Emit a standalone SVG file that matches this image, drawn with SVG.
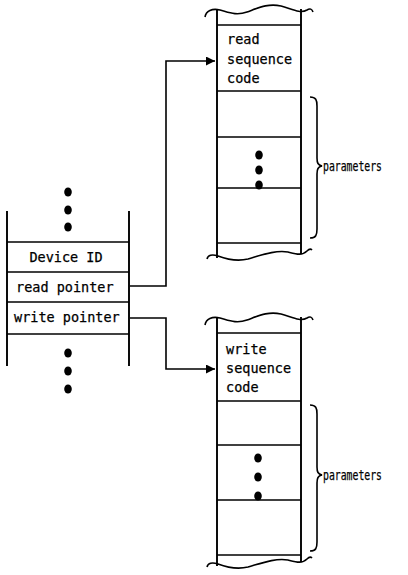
<svg xmlns="http://www.w3.org/2000/svg" width="408" height="575" viewBox="0 0 408 575">
  <style>
    .ln { stroke: #000; stroke-width: 1.6; fill: none; }
    .wall { stroke: #000; stroke-width: 1.9; fill: none; }
    .dot { fill: #000; }
    .txt { font-family: "DejaVu Sans Mono", "Liberation Mono", monospace; font-size: 13.5px; fill: #000; stroke: #000; stroke-width: 0.25; }
    .lbl { font-family: "DejaVu Sans Mono", "Liberation Mono", monospace; font-size: 14px; fill: #000; stroke: #000; stroke-width: 0.25; }
  </style>
  <defs>
    <marker id="arrow" viewBox="0 0 10 10" refX="10" refY="5" markerWidth="9" markerHeight="9" markerUnits="userSpaceOnUse" orient="auto">
      <path d="M0,0 L10,5 L0,10 Z" fill="#000"/>
    </marker>
  </defs>
  <rect width="408" height="575" fill="#fff"/>

  <!-- device control block -->
  <g id="device-block">
    <ellipse class="dot" cx="68" cy="192" rx="3.8" ry="4.6"/>
    <ellipse class="dot" cx="68" cy="210" rx="3.8" ry="4.6"/>
    <ellipse class="dot" cx="68" cy="227" rx="3.8" ry="4.6"/>
    <line class="wall" x1="7" y1="211" x2="7" y2="366"/>
    <line class="wall" x1="129" y1="211" x2="129" y2="366"/>
    <line class="ln" x1="7" y1="242" x2="129" y2="242"/>
    <line class="ln" x1="7" y1="272" x2="129" y2="272"/>
    <line class="ln" x1="7" y1="302" x2="129" y2="302"/>
    <line class="ln" x1="7" y1="334" x2="129" y2="334"/>
    <text class="txt" x="66" y="262" text-anchor="middle">Device ID</text>
    <text class="txt" x="16" y="292">read pointer</text>
    <text class="txt" x="14" y="322">write pointer</text>
    <ellipse class="dot" cx="68" cy="353" rx="3.8" ry="4.6"/>
    <ellipse class="dot" cx="68" cy="371" rx="3.8" ry="4.6"/>
    <ellipse class="dot" cx="68" cy="389" rx="3.8" ry="4.6"/>
  </g>

  <!-- read sequence area -->
  <g id="read-sequence">
    <path class="ln" d="M205,17 C206,11 212,8 220,10 C228,12 236,16 247,12 C258,8 268,3 281,6 C292,9 300,14 307,10 C310,8 312,9 313,12"/>
    <line class="wall" x1="217" y1="10" x2="217" y2="258"/>
    <line class="wall" x1="301" y1="9" x2="301" y2="254"/>
    <line class="ln" x1="217" y1="25" x2="301" y2="25"/>
    <line class="ln" x1="217" y1="91" x2="301" y2="91"/>
    <line class="ln" x1="217" y1="137" x2="301" y2="137"/>
    <line class="ln" x1="217" y1="188" x2="301" y2="188"/>
    <line class="ln" x1="217" y1="243" x2="301" y2="243"/>
    <path class="ln" d="M207,259 C208,255 212,254 218,256 C226,259 236,262 248,259 C262,255 275,250 288,252 C296,254 302,256 307,251 C309,249 311,249 312,250"/>
    <text class="txt" x="227" y="44">read</text>
    <text class="txt" x="227" y="64">sequence</text>
    <text class="txt" x="227" y="83">code</text>
    <ellipse class="dot" cx="259" cy="155" rx="3.8" ry="4.6"/>
    <ellipse class="dot" cx="259" cy="170" rx="3.8" ry="4.6"/>
    <ellipse class="dot" cx="259" cy="185" rx="3.8" ry="4.6"/>
    <path class="ln" d="M310,97 C316,97 317,100 317,106 L317,158 C317,163 318,165 322,166 C318,167 317,169 317,174 L317,229 C317,235 316,238 310,238"/>
    <text class="lbl" x="323" y="171" textLength="59" lengthAdjust="spacingAndGlyphs">parameters</text>
  </g>

  <!-- write sequence area -->
  <g id="write-sequence">
    <path class="ln" d="M205,325 C206,319 212,316 220,318 C228,320 236,324 247,320 C258,316 268,311 281,314 C292,317 300,322 307,318 C310,316 312,317 313,320"/>
    <line class="wall" x1="217" y1="318" x2="217" y2="566"/>
    <line class="wall" x1="301" y1="317" x2="301" y2="562"/>
    <line class="ln" x1="217" y1="333" x2="301" y2="333"/>
    <line class="ln" x1="217" y1="401" x2="301" y2="401"/>
    <line class="ln" x1="217" y1="445" x2="301" y2="445"/>
    <line class="ln" x1="217" y1="500" x2="301" y2="500"/>
    <line class="ln" x1="217" y1="555" x2="301" y2="555"/>
    <path class="ln" d="M207,567 C208,563 212,562 218,564 C226,567 236,570 248,567 C262,563 275,558 288,560 C296,562 302,564 307,559 C309,557 311,557 312,558"/>
    <text class="txt" x="226" y="354">write</text>
    <text class="txt" x="226" y="373">sequence</text>
    <text class="txt" x="226" y="392">code</text>
    <ellipse class="dot" cx="258" cy="458" rx="3.8" ry="4.6"/>
    <ellipse class="dot" cx="258" cy="477" rx="3.8" ry="4.6"/>
    <ellipse class="dot" cx="258" cy="496" rx="3.8" ry="4.6"/>
    <path class="ln" d="M310,405 C316,405 317,408 317,414 L317,467 C317,472 318,474 322,475 C318,476 317,478 317,483 L317,542 C317,548 316,551 310,551"/>
    <text class="lbl" x="323" y="480" textLength="59" lengthAdjust="spacingAndGlyphs">parameters</text>
  </g>

  <!-- pointer connectors -->
  <g id="connectors">
    <polyline class="ln" points="130,286 166,286 166,61 215,61" marker-end="url(#arrow)"/>
    <polyline class="ln" points="130,318 166,318 166,369 215,369" marker-end="url(#arrow)"/>
  </g>
</svg>
